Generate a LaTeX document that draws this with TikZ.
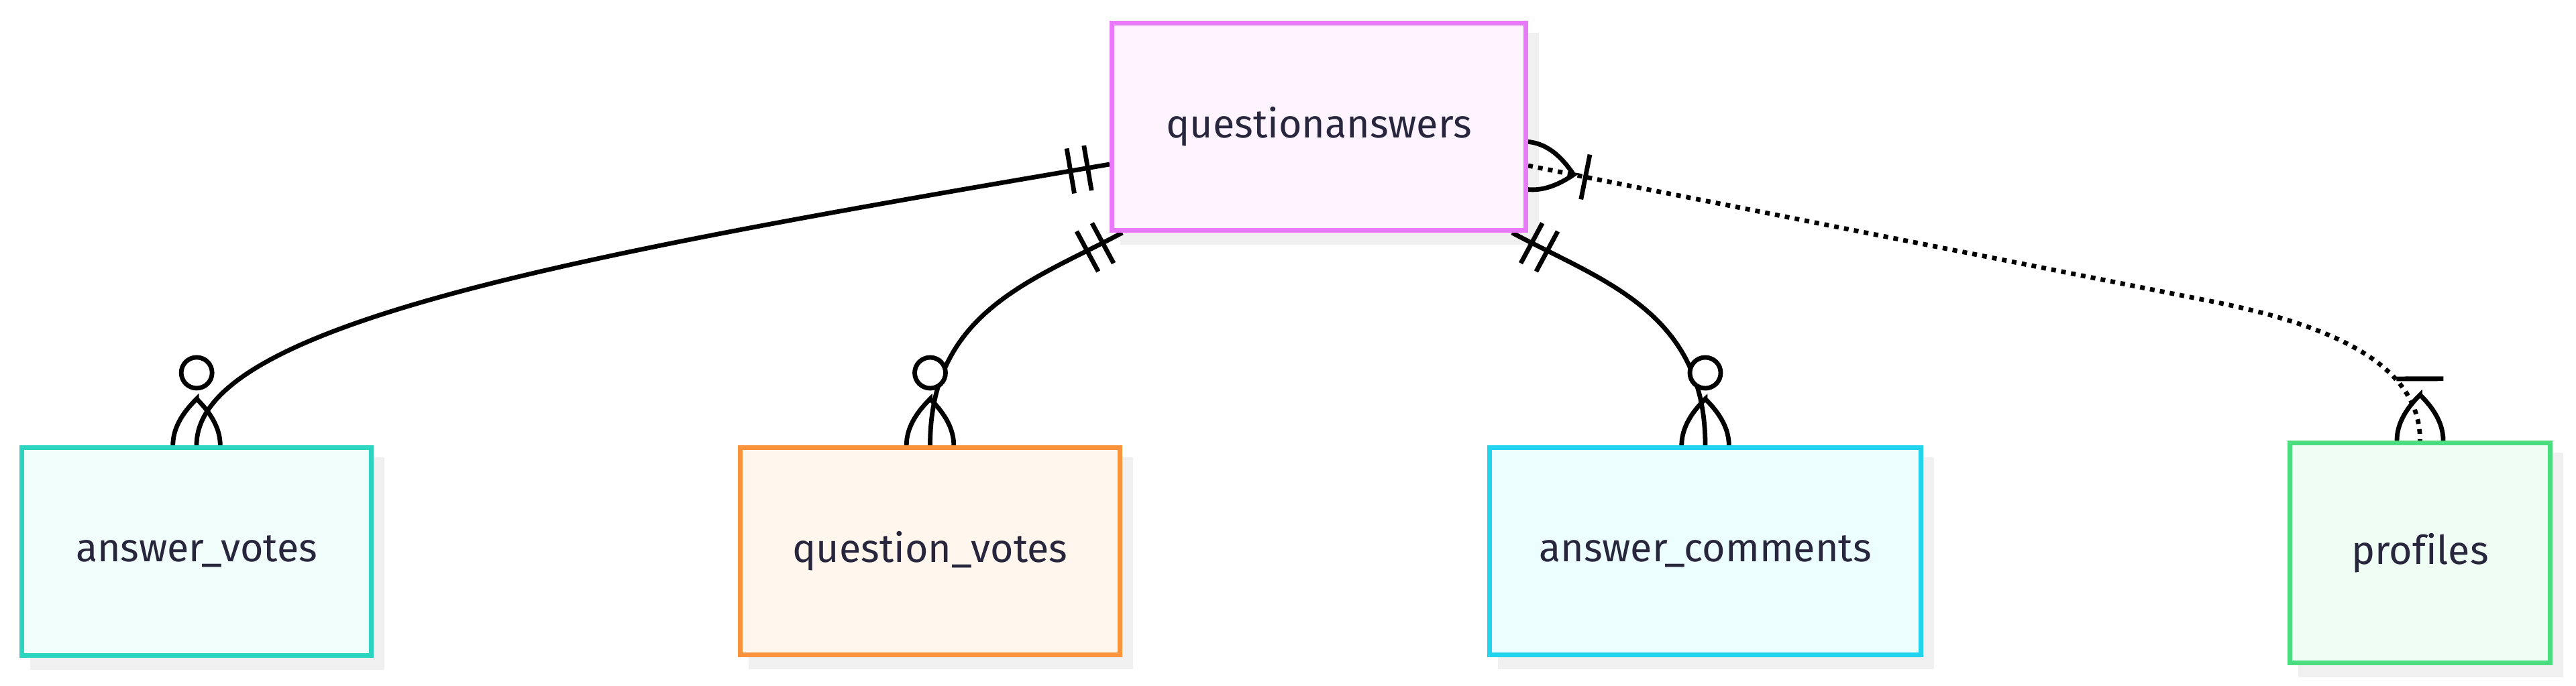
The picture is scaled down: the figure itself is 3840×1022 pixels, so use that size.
\documentclass[tikz,border=0pt]{standalone}
\usepackage{fontspec}
\setmainfont{Fira Sans}[Ligatures=NoCommon]
\usetikzlibrary{calc,decorations.markings}
\definecolor{ink}{RGB}{40,38,61}
\definecolor{shadowgray}{RGB}{240,240,240}
\definecolor{qaline}{RGB}{232,121,249}
\definecolor{qafill}{RGB}{253,244,255}
\definecolor{avline}{RGB}{45,212,191}
\definecolor{avfill}{RGB}{240,253,250}
\definecolor{qvline}{RGB}{251,146,60}
\definecolor{qvfill}{RGB}{255,247,237}
\definecolor{acline}{RGB}{34,211,238}
\definecolor{acfill}{RGB}{236,254,255}
\definecolor{prline}{RGB}{74,222,128}
\definecolor{prfill}{RGB}{240,253,244}
\pgfdeclarelayer{back}
\pgfdeclarelayer{edges}
\pgfsetlayers{back,edges,main}

\tikzset{
  entity/.style 2 args={draw=#1, fill=#2, line width=1.75pt, inner sep=0pt,
    text=ink, font=\fontsize{14.8}{18}\selectfont},
  rel/.style={line width=1.7pt, black},
  identifying/.style={rel, dash pattern=on 1.75pt off 2pt},
  % markers at the questionanswers end (start of a path)
  start one/.style={postaction={decorate, decoration={markings,
    mark=at position 0 with {
      \draw[solid] (33,-34) -- (33,34) (59,-34) -- (59,34);}}}},
  start many/.style={postaction={decorate, decoration={markings,
    mark=at position 0 with {
      \draw[solid] (69,0) .. controls (23,47) and (-23,47) .. (-69,0)
        .. controls (-23,-47) and (23,-47) .. cycle;
      \draw[solid] (87,-34) -- (87,34);}}}},
  % markers at the entity end (end of a path)
  end zero many/.style={postaction={decorate, decoration={markings,
    mark=at position 0.9999 with {
      \draw[solid, fill=white] (-108,0) circle[radius=23];
      \draw[solid] (-69,0) .. controls (-23,47) and (23,47) .. (69,0)
        .. controls (23,-47) and (-23,-47) .. cycle;}}}},
  end one many/.style={postaction={decorate, decoration={markings,
    mark=at position 0.9999 with {
      \draw[solid] (-92,-35) -- (-92,35);
      \draw[solid] (-68,0) .. controls (-23,46) and (23,46) .. (68,0)
        .. controls (23,-46) and (-23,-46) .. cycle;}}}}
}

\begin{document}
\begin{tikzpicture}[x=0.25pt, y=-0.25pt]
  \useasboundingbox (0,0) rectangle (3840,1022);

  \node[entity={qaline}{qafill}, minimum width=154.25pt, minimum height=77.25pt]
    (qa) at (1966,189) {questionanswers};
  \node[entity={avline}{avfill}, minimum width=130.25pt, minimum height=77.5pt]
    (av) at (293,822.5) {answer\_votes};
  \node[entity={qvline}{qvfill}, minimum width=141.5pt, minimum height=77.25pt]
    (qv) at (1386.5,822) {question\_votes};
  \node[entity={acline}{acfill}, minimum width=160.75pt, minimum height=77.25pt]
    (ac) at (2542,822) {answer\_comments};
  \node[entity={prline}{prfill}, minimum width=97pt, minimum height=82pt]
    (pr) at (3607.5,824.5) {profiles};

  % drop shadows
  \begin{pgfonlayer}{back}
    \foreach \n in {qa,av,qv,ac,pr}
      \fill[shadowgray] ($(\n.south west)+(16,18)$) rectangle ($(\n.north east)+(16,18)$);
  \end{pgfonlayer}

  % relationships
  \begin{pgfonlayer}{edges}
    \draw[rel, start one, end zero many] ($(qa.west)+(0,56)$)
      .. controls +(-800,136) and +(0,-180) .. (av.north);
    \draw[rel, start one, end zero many] ($(qa.south west)+(19,0)$)
      .. controls +(-132,71) and +(0,-200) .. (qv.north);
    \draw[rel, start one, end zero many] ($(qa.south east)+(-24,0)$)
      .. controls +(132,71) and +(0,-200) .. (ac.north);
    \coordinate (bend) at (3300,450);
    \draw[identifying, start many, end one many] ($(qa.east)+(0,58)$) -- (bend)
      .. controls +(180,36) and +(0,-112) .. (pr.north);
  \end{pgfonlayer}
\end{tikzpicture}
\end{document}
